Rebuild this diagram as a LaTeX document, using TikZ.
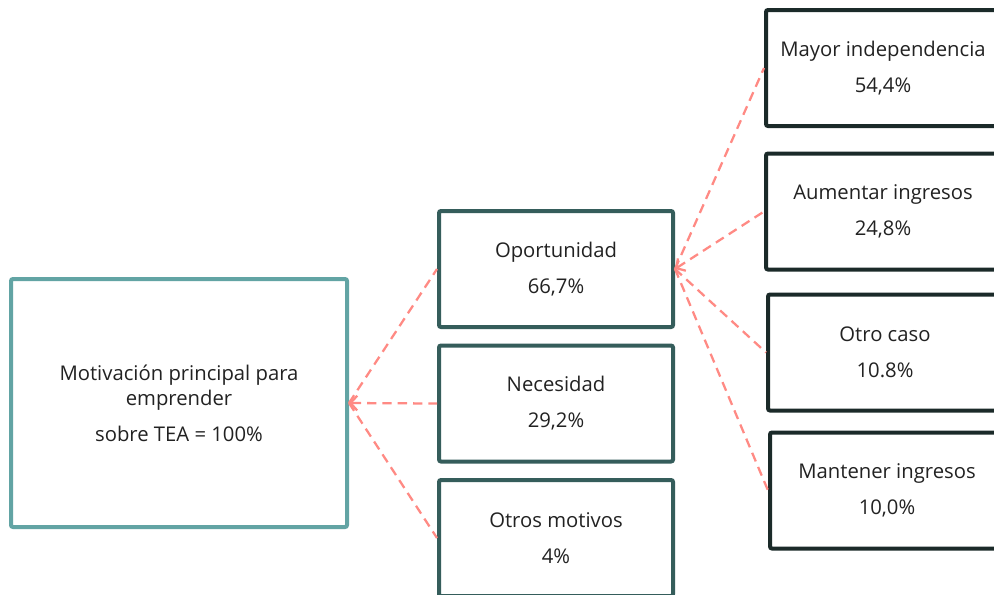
\documentclass[tikz,border=0pt]{standalone}
\usepackage{fontspec}
\setmainfont{Open Sans}
\usetikzlibrary{arrows.meta}
\definecolor{rootc}{HTML}{62A4A4}
\definecolor{midc}{HTML}{355D5B}
\definecolor{rightc}{HTML}{1B2A29}
\definecolor{conc}{HTML}{FF8A84}
\definecolor{txtc}{HTML}{222222}
\tikzset{
  box/.style={draw, line width=3pt, rounded corners=1.5pt, fill=white, inner sep=0pt,
    align=center, text=txtc, font=\fontsize{15.2}{19}\selectfont},
  rootbox/.style={box, draw=rootc, minimum width=252pt, minimum height=186pt},
  midbox/.style={box, draw=midc, minimum width=175.5pt, minimum height=87pt},
  rightbox/.style={box, draw=rightc, minimum width=175.5pt, minimum height=87pt},
  conn/.style={draw=conc, line width=1.7pt, dash pattern=on 7pt off 4.5pt},
  tipped/.style={conn, {Straight Barb[length=5pt,width=11pt,line width=1.7pt]}-}
}
\begin{document}
\begin{tikzpicture}[x=0.75pt,y=-0.75pt]
\useasboundingbox (0,0) rectangle (994,594);
\clip (0,0) rectangle (994,594);
\fill[white] (0,0) rectangle (994,594);
\node[rootbox] (root) at (179,403) {Motivación principal para\\emprender\\[8pt]sobre TEA = 100\%};
\node[midbox] (opp) at (556,269) {Oportunidad\\[8pt]66,7\%};
\node[midbox] (nec) at (556,403.5) {Necesidad\\[8pt]29,2\%};
\node[midbox] (otr) at (556,538) {Otros motivos\\[8pt]4\%};
\node[rightbox] (may) at (883,68) {Mayor independencia\\[8pt]54,4\%};
\node[rightbox] (aum) at (883,211.5) {Aumentar ingresos\\[8pt]24,8\%};
\node[rightbox] (oca) at (885,352.5) {Otro caso\\[8pt]10.8\%};
\node[rightbox] (man) at (887,490.5) {Mantener ingresos\\[8pt]10,0\%};
\draw[conn] (root.east) -- (opp.west);
\draw[tipped] (root.east) -- (nec.west);
\draw[conn] (root.east) -- (otr.west);
\draw[conn] (opp.east) -- (may.west);
\draw[tipped] (opp.east) -- (aum.west);
\draw[conn] (opp.east) -- (oca.west);
\draw[conn] (opp.east) -- (man.west);
\end{tikzpicture}
\end{document}
